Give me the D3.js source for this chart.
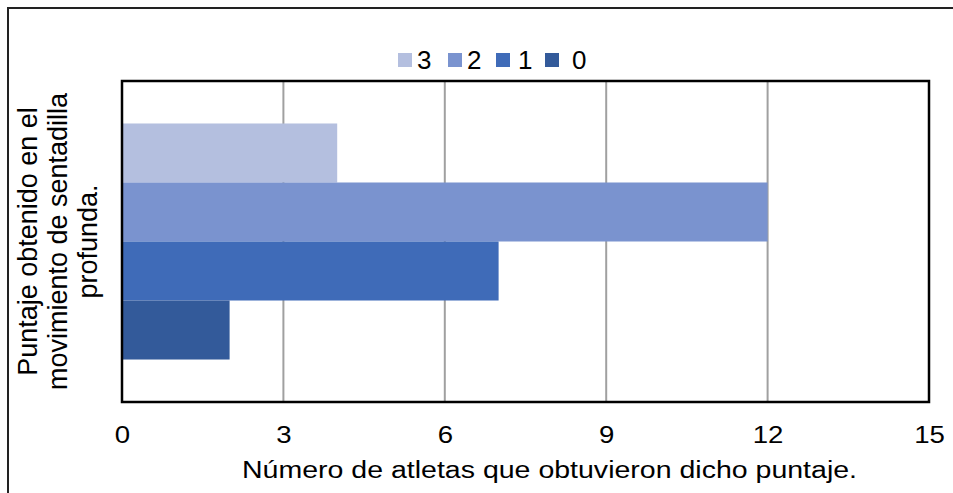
<!DOCTYPE html>
<html>
<head>
<meta charset="utf-8">
<script src="https://cdn.jsdelivr.net/npm/d3@7"></script>
<style>
  html, body { margin: 0; padding: 0; background: #fff; }
  svg { display: block; font-family: "Liberation Sans", Arial, sans-serif; }
</style>
</head>
<body>
<svg id="chart" width="953" height="493"></svg>
<script>
// Score groups (series) and number of athletes per score
const series = ["3", "2", "1", "0"];
const values = [4, 12, 7, 2];
const colors = ["#b4bfdf", "#7a93cf", "#3f6bb8", "#335a9a"];
const xTicks = [0, 3, 6, 9, 12, 15];
const xTitle = "Número de atletas que obtuvieron dicho puntaje.";
const yTitleLines = ["Puntaje obtenido en el", "movimiento de sentadilla", "profunda."];

const svg = d3.select("#chart");
const plot = { left: 122, top: 81, right: 929, bottom: 402 };

// outer frame (runs off the right and bottom edges)
svg.append("rect")
  .attr("x", 8).attr("y", 8)
  .attr("width", 960).attr("height", 500)
  .attr("fill", "none").attr("stroke", "#222").attr("stroke-width", 2);

const x = d3.scaleLinear().domain([0, 15]).range([plot.left, plot.right]);
// single category band containing the four series bars
const band = d3.scaleBand().domain(["cat"]).range([plot.top, plot.bottom]).paddingInner(0).paddingOuter(0.18);
const y = d3.scaleBand().domain(series).range([band("cat"), band("cat") + band.bandwidth()]).padding(0);

// vertical gridlines
svg.append("g").selectAll("line")
  .data(xTicks.filter(t => t > 0 && t < 15))
  .join("line")
  .attr("x1", d => x(d)).attr("x2", d => x(d))
  .attr("y1", plot.top).attr("y2", plot.bottom)
  .attr("stroke", "#a0a0a0").attr("stroke-width", 2);

// bars
svg.append("g").selectAll("rect")
  .data(series.map((s, i) => ({ s, v: values[i], c: colors[i] })))
  .join("rect")
  .attr("x", x(0))
  .attr("y", d => y(d.s))
  .attr("width", d => x(d.v) - x(0))
  .attr("height", y.bandwidth())
  .attr("fill", d => d.c);

// plot border
svg.append("rect")
  .attr("x", plot.left).attr("y", plot.top)
  .attr("width", plot.right - plot.left).attr("height", plot.bottom - plot.top)
  .attr("fill", "none").attr("stroke", "#000").attr("stroke-width", 2.5);

// x axis tick labels (slightly widened glyphs)
const xAxis = d3.axisBottom(x).tickValues(xTicks).tickSize(0).tickPadding(0);
const gx = svg.append("g").attr("transform", `translate(0,${plot.bottom})`).call(xAxis);
gx.select(".domain").remove();
gx.selectAll(".tick text")
  .attr("dy", null).attr("y", 0)
  .attr("transform", "translate(0,41) scale(1.15,1)")
  .attr("font-size", 24).attr("fill", "#000")
  .attr("font-family", "Liberation Sans, Arial, sans-serif");

// x axis title
svg.append("text")
  .attr("x", 242).attr("y", 478)
  .attr("font-size", 23).attr("fill", "#000")
  .attr("textLength", 615).attr("lengthAdjust", "spacingAndGlyphs")
  .text(xTitle);

// y axis title (three rotated lines)
const yt = svg.append("text")
  .attr("transform", `translate(0,${(plot.top + plot.bottom) / 2}) rotate(-90)`)
  .attr("text-anchor", "middle").attr("font-size", 27).attr("fill", "#000");
yTitleLines.forEach((l, i) => {
  yt.append("tspan").attr("x", 0).attr("y", 37 + i * 30).text(l);
});

// legend
const legendX = [398, 448, 496, 545];
const lg = svg.append("g");
series.forEach((s, i) => {
  lg.append("rect").attr("x", legendX[i]).attr("y", 53).attr("width", 14).attr("height", 14).attr("fill", colors[i]);
  lg.append("text").attr("x", legendX[i] + 19 + (s === "1" ? 3 : 0) + (s === "0" ? 8 : 0)).attr("y", 69)
    .attr("font-size", 26).attr("fill", "#000").text(s);
});
</script>
</body>
</html>
